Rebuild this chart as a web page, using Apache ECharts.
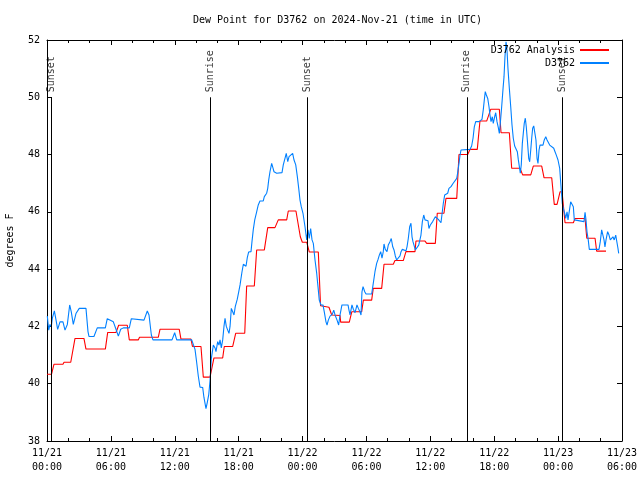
<!DOCTYPE html>
<html><head><meta charset="utf-8">
<script src="https://cdn.jsdelivr.net/npm/echarts@6/dist/echarts.min.js"></script>
<style>html,body{margin:0;padding:0;background:#fff}#c{width:640px;height:480px}</style>
</head><body><div id="c"></div>
<script>
const titleText = 'Dew Point for D3762 on 2024-Nov-21 (time in UTC)';
const seriesNames = ['D3762 Analysis', 'D3762'];
const xTickLabels = ['11/21\n00:00','11/21\n06:00','11/21\n12:00','11/21\n18:00','11/22\n00:00','11/22\n06:00','11/22\n12:00','11/22\n18:00','11/23\n00:00','11/23\n06:00'];
const yAxisName = 'degrees F';
// hours since 11/21 00:00 UTC
const sunHours = [0.44, 15.34, 24.45, 39.42, 48.39];
const sunLabels = ['Sunset', 'Sunrise', 'Sunset', 'Sunrise', 'Sunset'];
const sunLineTop = 50;
const sunLineBottom = 38;

const analysisHours = [0,0.42,0.66,1.50,1.60,2.23,2.63,3.47,3.66,5.48,5.70,6.48,6.73,7.54,7.73,8.57,8.69,10.45,10.61,12.42,12.58,13.52,13.66,14.46,14.68,15.31,15.68,16.50,16.65,17.44,17.72,18.57,18.75,19.47,19.69,20.41,20.73,21.41,21.72,22.51,22.66,23.38,23.79,23.98,24.39,24.63,25.48,25.69,26.48,26.74,27.52,27.58,28.39,28.62,29.55,29.71,30.49,30.64,31.43,31.65,32.52,32.68,33.46,33.71,34.56,34.65,35.50,35.66,36.47,36.65,37.28,37.47,38.48,38.69,39.51,39.72,40.41,40.66,41.29,41.67,42.48,42.64,43.42,43.64,44.42,44.67,45.43,45.67,46.46,46.68,47.40,47.64,47.90,48.18,48.37,48.65,49.43,49.59,50.53,50.69,51.47,51.62,52.50];
const analysisValues = [40.33,40.33,40.68,40.68,40.75,40.75,41.58,41.58,41.21,41.21,41.79,41.79,42.04,42.04,41.53,41.53,41.62,41.62,41.9,41.9,41.56,41.56,41.3,41.3,40.23,40.23,40.9,40.9,41.3,41.3,41.76,41.76,43.41,43.41,44.67,44.67,45.45,45.45,45.72,45.72,46.03,46.03,45.13,44.94,44.94,44.6,44.6,42.72,42.67,42.4,42.38,42.15,42.15,42.51,42.51,42.92,42.92,43.33,43.33,44.17,44.17,44.3,44.3,44.61,44.61,44.98,44.98,44.9,44.9,45.95,45.95,46.47,46.47,48.0,48.0,48.18,48.18,49.17,49.17,49.58,49.58,48.76,48.76,47.52,47.52,47.29,47.29,47.6,47.6,47.19,47.19,46.26,46.26,46.7,46.7,45.62,45.62,45.77,45.77,45.08,45.08,44.63,44.63];

const observedData = [[0.03,42.36],[0.16,41.87],[0.28,42.07],[0.40,41.99],[0.50,42.28],[0.69,42.54],[0.85,42.22],[1.00,41.9],[1.22,42.16],[1.50,42.16],[1.69,41.87],[1.91,42.07],[2.13,42.75],[2.28,42.51],[2.47,42.07],[2.72,42.45],[3.03,42.63],[3.66,42.63],[3.85,41.82],[3.94,41.65],[4.41,41.65],[4.72,41.95],[5.48,41.95],[5.66,42.27],[6.23,42.16],[6.48,41.9],[6.70,41.66],[6.92,41.9],[7.17,41.95],[7.73,41.95],[7.92,42.27],[9.11,42.22],[9.42,42.54],[9.58,42.4],[9.80,41.7],[9.95,41.53],[11.74,41.53],[11.99,41.78],[12.18,41.53],[13.59,41.53],[13.90,41.2],[14.06,40.73],[14.21,40.26],[14.37,39.88],[14.62,39.87],[14.74,39.52],[14.93,39.13],[15.05,39.34],[15.19,39.62],[15.31,40.1],[15.43,40.87],[15.62,41.35],[15.78,41.25],[15.87,41.12],[16.03,41.47],[16.15,41.35],[16.25,41.53],[16.37,41.25],[16.50,41.53],[16.62,42.0],[16.72,42.28],[16.84,42.0],[16.97,41.87],[17.09,41.76],[17.19,42.0],[17.31,42.63],[17.44,42.51],[17.56,42.4],[17.68,42.69],[17.87,42.95],[18.00,43.2],[18.13,43.45],[18.31,43.9],[18.44,44.17],[18.57,44.15],[18.69,44.1],[18.81,44.4],[18.94,44.6],[19.16,44.61],[19.25,44.96],[19.37,45.37],[19.51,45.72],[19.69,46.0],[19.84,46.24],[20.00,46.38],[20.31,46.38],[20.41,46.53],[20.63,46.65],[20.73,46.82],[20.82,47.11],[20.94,47.4],[21.10,47.69],[21.20,47.56],[21.32,47.4],[21.57,47.35],[22.07,47.37],[22.19,47.64],[22.35,47.87],[22.47,48.04],[22.61,47.75],[22.73,47.93],[22.91,47.98],[23.07,48.04],[23.20,47.81],[23.36,47.64],[23.51,47.23],[23.64,46.82],[23.76,46.41],[23.88,46.18],[24.04,45.95],[24.23,45.48],[24.39,45.02],[24.51,45.37],[24.63,45.07],[24.76,45.42],[24.89,45.02],[25.01,44.9],[25.17,44.32],[25.33,43.85],[25.45,43.39],[25.57,42.92],[25.73,42.75],[25.92,42.75],[26.04,42.51],[26.20,42.16],[26.30,42.05],[26.42,42.22],[26.58,42.36],[26.79,42.42],[26.93,42.57],[27.05,42.4],[27.24,42.22],[27.39,42.05],[27.52,42.4],[27.70,42.75],[28.27,42.75],[28.36,42.57],[28.46,42.4],[28.64,42.75],[28.77,42.6],[28.93,42.48],[29.11,42.75],[29.24,42.63],[29.39,42.51],[29.49,42.4],[29.58,43.21],[29.68,43.39],[29.84,43.21],[29.96,43.13],[30.49,43.13],[30.62,43.45],[30.80,43.91],[30.96,44.2],[31.09,44.34],[31.21,44.49],[31.34,44.61],[31.46,44.38],[31.58,44.61],[31.65,44.88],[31.77,44.69],[31.93,44.61],[32.05,44.84],[32.21,44.96],[32.33,45.07],[32.47,44.78],[32.59,44.67],[32.71,44.46],[32.84,44.32],[32.99,44.38],[33.15,44.46],[33.25,44.61],[33.37,44.69],[33.71,44.64],[33.81,44.78],[33.93,45.07],[34.06,45.48],[34.18,45.6],[34.28,45.13],[34.37,44.96],[34.59,44.67],[34.75,44.67],[34.91,44.84],[35.03,44.9],[35.12,45.19],[35.25,45.66],[35.38,45.89],[35.50,45.72],[35.78,45.69],[35.87,45.42],[36.00,45.54],[36.22,45.66],[36.47,45.83],[36.63,45.83],[36.75,45.74],[37.00,45.62],[37.12,45.66],[37.22,46.3],[37.35,46.59],[37.63,46.65],[37.75,46.82],[37.94,46.88],[38.13,46.99],[38.25,47.05],[38.48,47.17],[38.57,47.37],[38.69,47.69],[38.79,47.98],[38.88,48.16],[39.04,48.18],[39.72,48.18],[39.88,48.3],[40.01,48.57],[40.13,48.97],[40.26,49.15],[40.38,49.21],[40.57,49.15],[40.85,49.23],[40.97,49.56],[41.07,49.91],[41.16,50.2],[41.26,50.08],[41.39,49.96],[41.51,49.67],[41.60,49.38],[41.70,49.15],[41.82,49.32],[41.91,49.09],[42.04,49.32],[42.14,49.46],[42.26,49.15],[42.38,48.95],[42.48,48.74],[42.57,49.09],[42.70,49.67],[42.83,50.31],[42.92,50.72],[43.01,51.42],[43.11,51.94],[43.20,51.65],[43.29,51.01],[43.42,50.31],[43.55,49.67],[43.67,49.03],[43.79,48.57],[43.92,48.3],[44.05,48.27],[44.17,48.1],[44.26,47.83],[44.36,47.58],[44.45,47.35],[44.54,47.64],[44.64,48.39],[44.73,48.74],[44.82,49.09],[44.92,49.27],[45.01,48.97],[45.11,48.51],[45.24,47.87],[45.33,47.75],[45.43,48.16],[45.52,48.57],[45.61,48.92],[45.71,49.0],[45.83,49.0],[45.92,48.51],[46.02,47.87],[46.11,47.69],[46.21,48.16],[46.30,48.33],[46.58,48.33],[46.70,48.51],[46.84,48.62],[46.96,48.51],[47.08,48.45],[47.21,48.33],[47.33,48.3],[47.59,48.22],[47.71,48.1],[47.83,47.98],[47.99,47.81],[48.15,47.52],[48.23,47.1],[48.30,46.76],[48.39,46.3],[48.49,46.12],[48.62,45.95],[48.71,45.77],[48.84,46.0],[48.93,45.72],[49.02,45.77],[49.18,46.35],[49.33,46.35],[49.43,46.18],[49.52,45.72],[49.62,45.66],[50.43,45.66],[50.53,45.98],[50.62,45.72],[50.71,45.31],[50.83,45.02],[50.93,44.69],[51.84,44.69],[51.96,44.96],[52.09,45.37],[52.21,45.31],[52.31,45.02],[52.40,44.78],[52.50,45.02],[52.65,45.31],[52.78,45.19],[52.90,45.02],[53.03,45.07],[53.15,45.13],[53.27,45.02],[53.41,45.19],[53.53,45.25],[53.62,44.73],[53.69,44.55]];

const FONT = 'DejaVu Sans Mono';
const analysisData = analysisHours.map((h, i) => [h, analysisValues[i]]);

const chart = echarts.init(document.getElementById('c'), null, {renderer: 'canvas'});

function xAxisDef(pos, showLabel) {
  return {
    type: 'value', min: 0, max: 54, interval: 6, position: pos,
    axisLine: {show: true, onZero: false, lineStyle: {color: '#000', width: 1}},
    axisTick: {show: true, inside: true, length: 5, lineStyle: {color: '#000', width: 1}},
    minorTick: {show: true, splitNumber: 3, length: 3, lineStyle: {color: '#000', width: 1}},
    splitLine: {show: false},
    axisLabel: {show: showLabel, margin: 5, color: '#000', fontFamily: FONT, fontSize: 10, lineHeight: 14,
      formatter: v => xTickLabels[Math.round(v / 6)]}
  };
}
function yAxisDef(pos, showLabel) {
  const a = {
    type: 'value', min: 38, max: 52, interval: 2, position: pos,
    axisLine: {show: true, onZero: false, lineStyle: {color: '#000', width: 1}},
    axisTick: {show: true, inside: true, length: 5, lineStyle: {color: '#000', width: 1}},
    splitLine: {show: false},
    axisLabel: {show: showLabel, margin: 7, color: '#000', fontFamily: FONT, fontSize: 10}
  };
  if (showLabel) {
    a.name = yAxisName;
    a.nameLocation = 'middle';
    a.nameGap = 32;
    a.nameTextStyle = {color: '#000', fontFamily: FONT, fontSize: 10};
  }
  return a;
}

const option = {
  animation: false,
  backgroundColor: '#fff',
  textStyle: {fontFamily: FONT, fontSize: 10, color: '#000'},
  title: {text: titleText, left: 188, top: 10,
    textStyle: {fontFamily: FONT, fontSize: 10, fontWeight: 'normal', color: '#000'}},
  legend: {
    orient: 'vertical', right: 30, top: 45, padding: 0, align: 'right',
    itemWidth: 29, itemHeight: 10, itemGap: 3,
    itemStyle: {opacity: 0},
    textStyle: {fontFamily: FONT, fontSize: 10, color: '#000'},
    data: seriesNames
  },
  grid: {left: 47, right: 18, top: 40, bottom: 39, containLabel: false, outerBoundsMode: 'none'},
  xAxis: [xAxisDef('bottom', true), xAxisDef('top', false)],
  yAxis: [yAxisDef('left', true), yAxisDef('right', false)],
  series: [
    {
      name: 'sun', type: 'scatter', symbolSize: 0, silent: true, z: 1,
      data: sunHours.map((h, i) => [h, sunLineTop, sunLabels[i]]),
      label: {show: true, formatter: p => p.data[2], rotate: 90, position: [0, -5],
        align: 'left', verticalAlign: 'middle', fontFamily: FONT, fontSize: 10, color: '#000'},
      markLine: {
        silent: true, symbol: 'none', label: {show: false},
        lineStyle: {color: '#000', width: 1, type: 'solid'},
        data: sunHours.map(h => [{coord: [h, sunLineTop]}, {coord: [h, sunLineBottom]}])
      }
    },
    {
      name: seriesNames[0], type: 'line', data: analysisData, symbol: 'none', showSymbol: false, z: 2,
      lineStyle: {color: '#ff0000', width: 1.1}, itemStyle: {color: '#ff0000'}
    },
    {
      name: seriesNames[1], type: 'line', data: observedData, symbol: 'none', showSymbol: false, z: 3,
      lineStyle: {color: '#0080ff', width: 1.1}, itemStyle: {color: '#0080ff'}
    }
  ]
};
chart.setOption(option);
</script>
</body></html>
